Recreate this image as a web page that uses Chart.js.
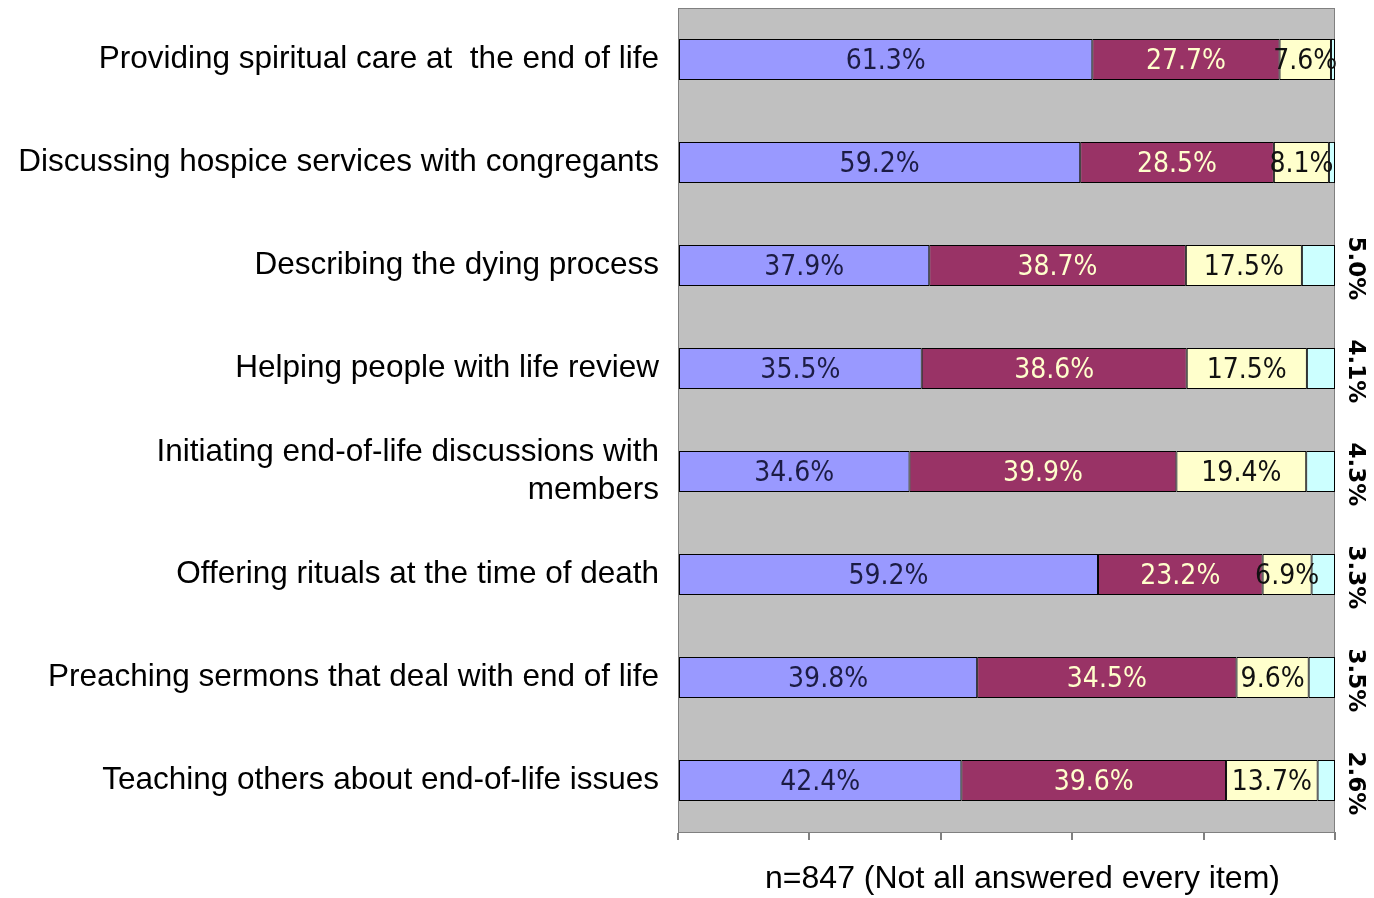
<!DOCTYPE html>
<html>
<head>
<meta charset="utf-8">
<script src="https://cdn.jsdelivr.net/npm/chart.js@4"></script>
<style>
  html, body { margin: 0; padding: 0; background: #ffffff; }
  #wrap { width: 1374px; height: 898px; position: relative; }
</style>
</head>
<body>
<div id="wrap"><canvas id="c" width="1374" height="898"></canvas></div>
<script>
// ---- Data ----
const categories = [
  'Providing spiritual care at  the end of life',
  'Discussing hospice services with congregants',
  'Describing the dying process',
  'Helping people with life review',
  ['Initiating end-of-life discussions with', 'members'],
  'Offering rituals at the time of death',
  'Preaching sermons that deal with end of life',
  'Teaching others about end-of-life issues'
];
const series1 = [61.3, 59.2, 37.9, 35.5, 34.6, 59.2, 39.8, 42.4];
const series2 = [27.7, 28.5, 38.7, 38.6, 39.9, 23.2, 34.5, 39.6];
const series3 = [7.6, 8.1, 17.5, 17.5, 19.4, 6.9, 9.6, 13.7];
const series4 = [0.6, 0.9, 5.0, 4.1, 4.3, 3.3, 3.5, 2.6];
const xTicks = [0, 20, 40, 60, 80, 100];
const axisTitle = 'n=847 (Not all answered every item)';

// 100% stacked: each row scaled to its own total (as in the original chart)
const rawSeries = [series1, series2, series3, series4];
const totals = categories.map((_, i) => rawSeries.reduce((s, arr) => s + arr[i], 0));
const shares = rawSeries.map(arr => arr.map((v, i) => v / totals[i] * 100));

const fills = ['#9999FF', '#993366', '#FFFFCC', '#CCFFFF'];
const labelColors = ['#1C1C44', '#FFFFCC', '#111111', '#000000'];

const bgPlugin = {
  id: 'plotBg',
  beforeDraw(chart) {
    const { ctx, chartArea: a } = chart;
    ctx.save();
    ctx.fillStyle = '#C0C0C0';
    ctx.fillRect(a.left, a.top, a.right - a.left, a.bottom - a.top);
    ctx.strokeStyle = '#808080';
    ctx.lineWidth = 1;
    ctx.strokeRect(a.left + 0.5, a.top + 0.5, a.right - a.left - 1, a.bottom - a.top);
    ctx.restore();
  }
};

const labelPlugin = {
  id: 'barLabels',
  afterDatasetsDraw(chart) {
    const { ctx, chartArea: a } = chart;
    ctx.save();
    ctx.textBaseline = 'middle';
    for (let d = 0; d < 3; d++) {
      const meta = chart.getDatasetMeta(d);
      ctx.font = '28px "Liberation Sans Narrow", "DejaVu Sans Condensed", "Liberation Sans", Arial, sans-serif';
      ctx.fillStyle = labelColors[d];
      ctx.textAlign = 'center';
      meta.data.forEach((el, i) => {
        const cx = (el.x + el.base) / 2;
        ctx.fillText(rawSeries[d][i].toFixed(1) + '%', cx, el.y + 2);
      });
    }
    // fourth series: rotated labels outside the plot on the right
    const meta4 = chart.getDatasetMeta(3);
    ctx.font = 'bold 23px "DejaVu Sans", Verdana, sans-serif';
    ctx.fillStyle = labelColors[3];
    meta4.data.forEach((el, i) => {
      const v = series4[i];
      if (v < 1) return;
      ctx.save();
      ctx.translate(a.right + 20, el.y + 3);
      ctx.rotate(Math.PI / 2);
      ctx.textAlign = 'center';
      ctx.textBaseline = 'middle';
      ctx.fillText(v.toFixed(1) + '%', 0, 0);
      ctx.restore();
    });
    // axis title under the plot
    ctx.font = '32px "Liberation Sans", Arial, sans-serif';
    ctx.fillStyle = '#000000';
    ctx.textAlign = 'center';
    ctx.textBaseline = 'middle';
    ctx.fillText(axisTitle, (a.left + a.right) / 2 + 16, a.bottom + 47);
    ctx.restore();
  }
};

const datasets = shares.map((arr, k) => ({
  label: 'Series ' + (k + 1),
  data: arr,
  backgroundColor: fills[k],
  borderColor: '#000000',
  borderWidth: 1,
  borderSkipped: false,
  categoryPercentage: 1.0,
  barPercentage: 0.4
}));

new Chart(document.getElementById('c'), {
  type: 'bar',
  data: { labels: categories, datasets },
  plugins: [bgPlugin, labelPlugin],
  options: {
    indexAxis: 'y',
    responsive: false,
    animation: false,
    devicePixelRatio: 1,
    layout: { padding: { top: 8, right: 39, bottom: 58, left: 0 } },
    plugins: { legend: { display: false }, tooltip: { enabled: false } },
    scales: {
      x: {
        stacked: true,
        min: xTicks[0],
        max: xTicks[xTicks.length - 1],
        afterBuildTicks(scale) { scale.ticks = xTicks.map(v => ({ value: v })); },
        grid: { drawOnChartArea: false, drawTicks: true, tickLength: 8, color: '#808080', lineWidth: 2 },
        border: { color: '#808080' },
        ticks: { display: false }
      },
      y: {
        stacked: true,
        afterFit(scale) { scale.width = 678; scale.paddingTop = 0; scale.paddingBottom = 0; },
        grid: { display: false, drawTicks: false },
        border: { color: '#808080' },
        ticks: {
          color: '#000000',
          padding: 19,
          font: { family: '"Liberation Sans", Arial, sans-serif', size: 31.5, lineHeight: 1.2 }
        }
      }
    }
  }
});
</script>
</body>
</html>
